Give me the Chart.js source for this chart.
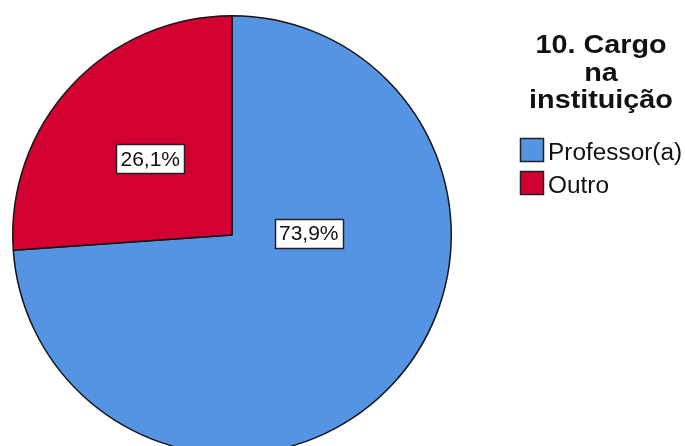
<!DOCTYPE html>
<html>
<head>
<meta charset="utf-8">
<script src="https://cdn.jsdelivr.net/npm/chart.js@4/dist/chart.umd.min.js"></script>
<style>
  html, body { margin: 0; padding: 0; background: #ffffff; overflow: hidden; }
  #wrap { position: relative; width: 685px; height: 470px; }
</style>
</head>
<body>
<div id="wrap"><canvas id="c"></canvas></div>
<script>
// Respostas por cargo na instituição (percentagens)
const categories = ['Professor(a)', 'Outro'];
const percentages = [73.9, 26.1];
const titleLines = ['10. Cargo', 'na', 'instituição'];
const sliceColors = ['#5593E3', '#D30032'];

// Posição do rótulo dentro de cada fatia: fração do ângulo e do raio
const labelPlacement = [
  { along: 0.334, radial: 0.35 },
  { along: 0.5, radial: 0.51 }
];

function formatPct(v) {
  return v.toFixed(1).replace('.', ',') + '%';
}

// Rótulos de percentagem em caixas brancas
const boxLabels = {
  id: 'boxLabels',
  afterDatasetsDraw(chart) {
    const ctx = chart.ctx;
    const meta = chart.getDatasetMeta(0);
    const values = chart.data.datasets[0].data;
    ctx.save();
    ctx.font = '21px "Liberation Sans", Arial, sans-serif';
    ctx.textAlign = 'center';
    ctx.textBaseline = 'middle';
    meta.data.forEach((arc, i) => {
      const p = arc.getProps(['x', 'y', 'startAngle', 'endAngle', 'outerRadius'], true);
      const pl = labelPlacement[i];
      const a = p.startAngle + (p.endAngle - p.startAngle) * pl.along;
      const cx = p.x + Math.cos(a) * p.outerRadius * pl.radial;
      const cy = p.y + Math.sin(a) * p.outerRadius * pl.radial;
      const text = formatPct(values[i]);
      const w = Math.round(ctx.measureText(text).width + 8);
      const h = 29;
      const bx = Math.round(cx - w / 2) + 0.5;
      const by = Math.round(cy - h / 2) + 0.5;
      ctx.fillStyle = '#ffffff';
      ctx.fillRect(bx, by, w, h);
      ctx.strokeStyle = '#222222';
      ctx.lineWidth = 1.5;
      ctx.strokeRect(bx, by, w, h);
      ctx.fillStyle = '#111111';
      ctx.fillText(text, cx, cy + 1);
    });
    ctx.restore();
  }
};

// Título e legenda à direita do gráfico
const sideLegend = {
  id: 'sideLegend',
  afterDraw(chart) {
    const ctx = chart.ctx;
    const ds = chart.data.datasets[0];
    ctx.save();
    ctx.fillStyle = '#111111';
    ctx.textBaseline = 'alphabetic';
    ctx.font = 'bold 25px "Liberation Sans", Arial, sans-serif';
    const tx = 601;
    const sx = 1.15;
    titleLines.forEach((line, i) => {
      ctx.save();
      ctx.translate(tx, 53 + i * 27.5);
      ctx.scale(sx, 1);
      ctx.textAlign = 'center';
      ctx.fillText(line, 0, 0);
      ctx.restore();
    });
    ctx.font = '23px "Liberation Sans", Arial, sans-serif';
    chart.data.labels.forEach((lab, i) => {
      const y = 138 + i * 33;
      ctx.fillStyle = ds.backgroundColor[i];
      ctx.fillRect(520, y, 23, 23);
      ctx.strokeStyle = '#222222';
      ctx.lineWidth = 1.5;
      ctx.strokeRect(520.5, y + 0.5, 23, 23);
      ctx.save();
      ctx.translate(548, y + 22);
      ctx.scale(1.06, 1);
      ctx.textAlign = 'left';
      ctx.fillStyle = '#111111';
      ctx.fillText(lab, 0, 0);
      ctx.restore();
    });
    ctx.restore();
  }
};

new Chart(document.getElementById('c'), {
  type: 'pie',
  data: {
    labels: categories,
    datasets: [{
      data: percentages,
      backgroundColor: sliceColors,
      borderColor: '#151515',
      borderWidth: 1.5
    }]
  },
  options: {
    responsive: true,
    maintainAspectRatio: false,
    animation: false,
    layout: { padding: { left: 12, top: 15, right: 233, bottom: 15 } },
    plugins: {
      legend: { display: false },
      tooltip: { enabled: false },
      title: { display: false }
    }
  },
  plugins: [boxLabels, sideLegend]
});
</script>
</body>
</html>
